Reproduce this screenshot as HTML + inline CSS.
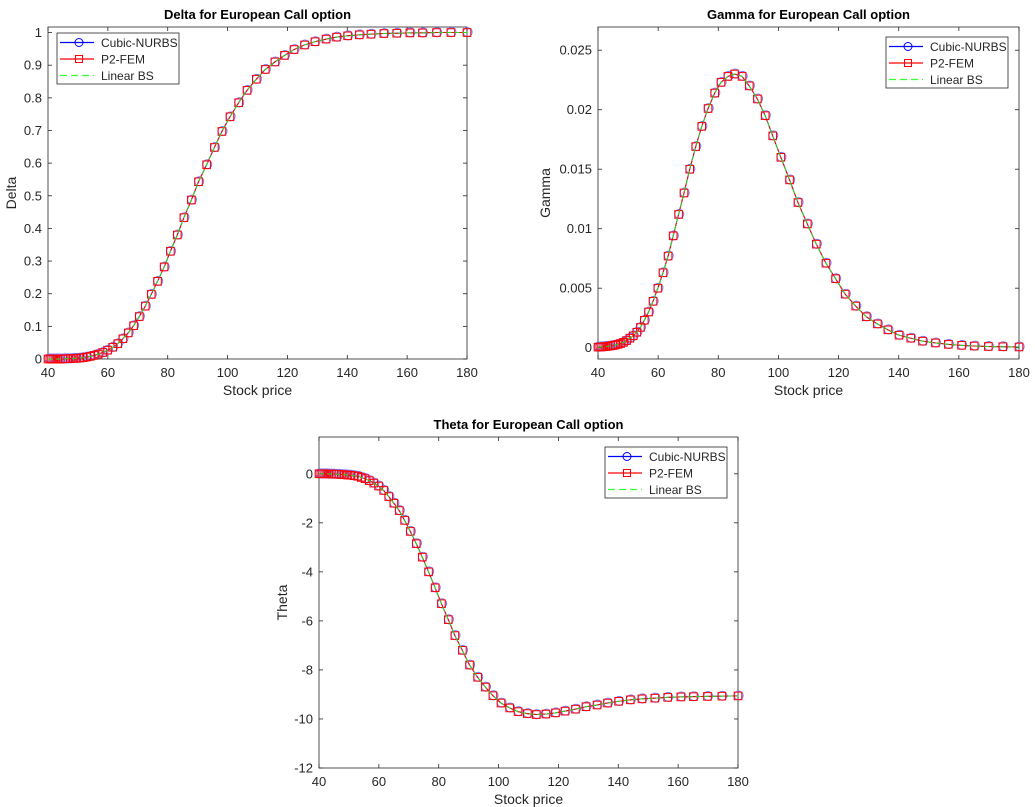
<!DOCTYPE html>
<html><head><meta charset="utf-8">
<style>
html,body{margin:0;padding:0;background:#fff;}
svg{display:block;font-family:"Liberation Sans",Arial,sans-serif;}
</style></head>
<body>
<svg id="fig" width="1035" height="807" viewBox="0 0 1035 807" xmlns="http://www.w3.org/2000/svg"></svg>
<script>
const stockPrices = [40,40.6,41.2,41.9,42.6,43.3,44.1,44.9,45.7,46.6,47.5,48.5,49.5,50.6,51.7,52.9,54.1,55.4,56.8,58.3,59.9,61.6,63.3,65.0,66.8,68.6,70.5,72.5,74.5,76.6,78.8,80.9,83.2,85.4,87.9,90.3,93.0,95.6,98.1,100.8,103.7,106.5,109.6,112.6,115.8,119.0,122.2,125.7,129.2,132.9,136.4,140.1,144.0,147.9,152.2,156.5,160.9,165.1,169.8,174.6,180];
const deltaValues = [0,0,0,0,0,0,0,0,0.001,0.001,0.001,0.002,0.002,0.003,0.004,0.006,0.008,0.011,0.015,0.02,0.027,0.036,0.047,0.062,0.08,0.102,0.13,0.162,0.198,0.238,0.282,0.33,0.38,0.433,0.487,0.543,0.595,0.648,0.697,0.742,0.785,0.823,0.857,0.887,0.91,0.93,0.948,0.962,0.972,0.98,0.986,0.99,0.993,0.995,0.997,0.998,0.999,0.999,1,1,1];
const gammaValues = [0.00005,0.00006,0.00007,0.00008,0.0001,0.00012,0.00015,0.00018,0.00022,0.00028,0.00035,0.00045,0.0006,0.0008,0.001,0.0013,0.0017,0.0023,0.003,0.0039,0.005,0.0063,0.0077,0.0094,0.0112,0.013,0.015,0.0169,0.0186,0.0201,0.0214,0.0223,0.0228,0.023,0.0228,0.022,0.0209,0.0195,0.0178,0.016,0.0141,0.0122,0.0104,0.0087,0.0071,0.0058,0.0045,0.0035,0.0026,0.002,0.0015,0.00105,0.0008,0.00055,0.0004,0.00028,0.0002,0.00014,0.0001,0.00008,0.00006];
const thetaValues = [0,0,0,0,0,-0.01,-0.01,-0.01,-0.02,-0.02,-0.03,-0.04,-0.05,-0.06,-0.08,-0.1,-0.15,-0.2,-0.28,-0.38,-0.5,-0.68,-0.93,-1.2,-1.5,-1.9,-2.35,-2.85,-3.4,-4.0,-4.65,-5.3,-5.95,-6.6,-7.2,-7.8,-8.3,-8.7,-9.05,-9.35,-9.55,-9.7,-9.78,-9.82,-9.8,-9.75,-9.68,-9.6,-9.5,-9.43,-9.35,-9.28,-9.22,-9.18,-9.15,-9.12,-9.1,-9.09,-9.08,-9.07,-9.06];
const xTicks = [40,60,80,100,120,140,160,180];
const deltaTicks = [0,0.1,0.2,0.3,0.4,0.5,0.6,0.7,0.8,0.9,1];
const deltaTickLabels = ["0","0.1","0.2","0.3","0.4","0.5","0.6","0.7","0.8","0.9","1"];
const gammaTicks = [0,0.005,0.01,0.015,0.02,0.025];
const gammaTickLabels = ["0","0.005","0.01","0.015","0.02","0.025"];
const thetaTicks = [0,-2,-4,-6,-8,-10,-12];
const thetaTickLabels = ["0","-2","-4","-6","-8","-10","-12"];
const legendLabels = ["Cubic-NURBS","P2-FEM","Linear BS"];

const NS = "http://www.w3.org/2000/svg";
const fig = document.getElementById('fig');
function mk(tag, attrs, parent){
  const e = document.createElementNS(NS, tag);
  for (const k in attrs) e.setAttribute(k, attrs[k]);
  (parent||fig).appendChild(e);
  return e;
}

function drawChart(c){
  const g = mk('g', {});
  
  
  const sx = v => c.L + (v - 40) / 140 * (c.R - c.L);
  const sy = v => c.B - (v - c.ymin) / (c.ymax - c.ymin) * (c.B - c.T);
  const box = mk('rect', {x:c.L, y:c.T, width:c.R-c.L, height:c.B-c.T, fill:'#fff', stroke:'#262626', 'stroke-width':0.8}, g);
  
  
  xTicks.forEach(t => {
    const x = sx(t);
    mk('line', {x1:x, x2:x, y1:c.B, y2:c.B-4, stroke:'#262626', 'stroke-width':0.8}, g);
    mk('line', {x1:x, x2:x, y1:c.T, y2:c.T+4, stroke:'#262626', 'stroke-width':0.8}, g);
    const tx = mk('text', {x:x, y:c.B+18, 'text-anchor':'middle', 'font-size':13, fill:'#262626'}, g);
    tx.textContent = t;
    
    
  });
  c.ticks.forEach((t, i) => {
    const y = sy(t);
    mk('line', {x1:c.L, x2:c.L+4, y1:y, y2:y, stroke:'#262626', 'stroke-width':0.8}, g);
    mk('line', {x1:c.R, x2:c.R-4, y1:y, y2:y, stroke:'#262626', 'stroke-width':0.8}, g);
    const tx = mk('text', {x:c.L-6, y:y+4.5, 'text-anchor':'end', 'font-size':13, fill:'#262626'}, g);
    tx.textContent = c.tickLabels[i];
    
    
  });
  const title = mk('text', {x:(c.L+c.R)/2, y:c.T-8, 'text-anchor':'middle', 'font-size':13, 'font-weight':'bold', fill:'#000'}, g);
  title.textContent = c.title;
  
  
  const xl = mk('text', {x:(c.L+c.R)/2, y:c.B+36, 'text-anchor':'middle', 'font-size':14, fill:'#262626'}, g);
  xl.textContent = 'Stock price';
  
  
  const yx = c.yLabelX, yy = (c.T+c.B)/2;
  const yl = mk('text', {x:yx, y:yy, 'text-anchor':'middle', 'font-size':14, fill:'#262626', transform:`rotate(-90 ${yx} ${yy})`}, g);
  yl.textContent = c.yLabel;
  
  

  const pts = stockPrices.map((x, i) => sx(x).toFixed(2) + ',' + sy(c.values[i]).toFixed(2)).join(' ');
  const nurbs = mk('polyline', {points:pts, fill:'none', stroke:'#0000ff', 'stroke-width':1}, g);
  
  
  stockPrices.forEach((x, i) => {
    const m = mk('circle', {cx:sx(x)+0.6, cy:sy(c.values[i])-0.4, r:4.5, fill:'none', stroke:'#7a7aff', 'stroke-width':1.1}, g);
    
    
  });
  const fem = mk('polyline', {points:pts, fill:'none', stroke:'#ff0000', 'stroke-width':1}, g);
  
  
  stockPrices.forEach((x, i) => {
    const m = mk('rect', {x:sx(x)-3.8, y:sy(c.values[i])-3.8, width:7.6, height:7.6, fill:'none', stroke:'#ff0000', 'stroke-width':1}, g);
    
    
  });
  const bs = mk('polyline', {points:pts, fill:'none', stroke:'#22dd22', 'stroke-width':1, 'stroke-dasharray':'5,3'}, g);
  
  

  const lg = mk('g', {}, g);
  
  
  mk('rect', {x:c.lx, y:c.ly, width:122, height:51, fill:'#fff', stroke:'#262626', 'stroke-width':0.8}, lg);
  const colors = ['#0000ff', '#ff0000', '#33ff33'];
  legendLabels.forEach((lab, i) => {
    const y = c.ly + 9.5 + i * 16.5;
    const ln = mk('line', {x1:c.lx+3, x2:c.lx+37, y1:y, y2:y, stroke:colors[i], 'stroke-width':1.2}, lg);
    if (i === 2) ln.setAttribute('stroke-dasharray', '7,4');
    if (i === 0) mk('circle', {cx:c.lx+22, cy:y, r:4, fill:'none', stroke:'#0000ff'}, lg);
    if (i === 1) mk('rect', {x:c.lx+18.5, y:y-3.5, width:7, height:7, fill:'none', stroke:'#ff0000'}, lg);
    const t = mk('text', {x:c.lx+44, y:y+4.5, 'font-size':12, fill:'#262626'}, lg);
    t.textContent = lab;
    
    
  });
}

drawChart({name:'delta', title:'Delta for European Call option', yLabel:'Delta', L:48, R:467, T:27, B:359, ymin:0, ymax:1.017, values:deltaValues, ticks:deltaTicks, tickLabels:deltaTickLabels, yLabelX:16, lx:57, ly:33});
drawChart({name:'gamma', title:'Gamma for European Call option', yLabel:'Gamma', L:598, R:1019, T:27, B:359, ymin:-0.00095, ymax:0.02695, values:gammaValues, ticks:gammaTicks, tickLabels:gammaTickLabels, yLabelX:550, lx:886, ly:37});
drawChart({name:'theta', title:'Theta for European Call option', yLabel:'Theta', L:319, R:738, T:437, B:768, ymin:-12, ymax:1.5, values:thetaValues, ticks:thetaTicks, tickLabels:thetaTickLabels, yLabelX:287, lx:605, ly:447});
</script>
</body></html>
